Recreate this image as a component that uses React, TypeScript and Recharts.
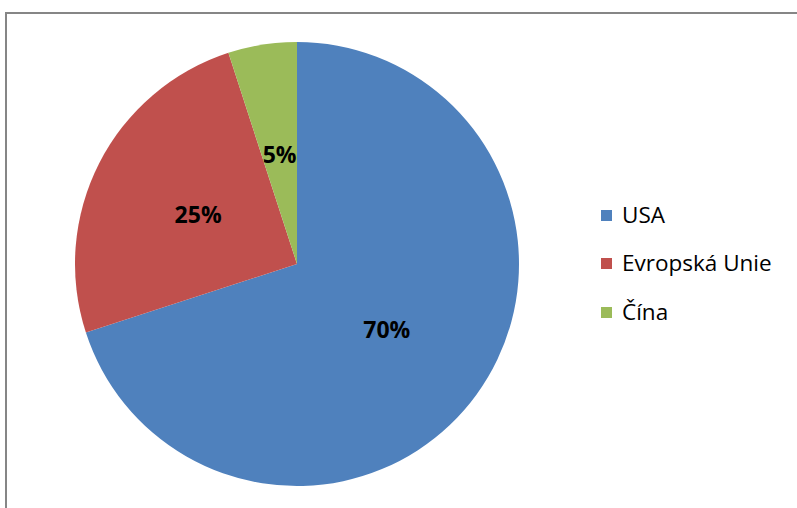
import React from "react";
import { PieChart, Pie, Cell, Legend } from "recharts";

const categories = ["USA", "Evropská Unie", "Čína"];
const shares = [70, 25, 5];
const colors = ["#4F81BD", "#C0504D", "#9BBB59"];

const data = categories.map((name, i) => ({ name, value: shares[i] }));

const RAD = Math.PI / 180;

const renderLabel = (props: any) => {
  const { cx, cy, midAngle, outerRadius, value } = props;
  const r = outerRadius * 0.5;
  const x = cx + r * Math.cos(-midAngle * RAD);
  const y = cy + r * Math.sin(-midAngle * RAD);
  return (
    <text
      x={x}
      y={y}
      textAnchor="middle"
      dominantBaseline="central"
      fill="#000"
      fontFamily="'Open Sans', sans-serif"
      fontWeight="bold"
      fontSize={23}
    >
      {`${value}%`}
    </text>
  );
};

const LegendContent = () => (
  <div style={{ fontFamily: "'Open Sans', sans-serif", fontSize: 22.5, color: "#000", lineHeight: 1 }}>
    {categories.map((c, i) => (
      <div key={c} style={{ height: 48.5, display: "flex", alignItems: "center" }}>
        <div style={{ width: 11, height: 11, background: colors[i], marginRight: 10 }} />
        <span>{c}</span>
      </div>
    ))}
  </div>
);

export default function App() {
  return (
    <div style={{ position: "fixed", left: 0, top: 0, width: 797, height: 508, background: "#fff", overflow: "hidden" }}>
      <div
        style={{
          position: "absolute",
          left: 5,
          top: 12,
          width: 900,
          height: 700,
          border: "2px solid #868686",
          boxSizing: "border-box",
        }}
      />
      <div style={{ position: "absolute", left: 0, top: 0 }}>
        <PieChart width={797} height={508} margin={{ top: 0, right: 0, bottom: 0, left: 0 }}>
          <Pie
            data={data}
            dataKey="value"
            nameKey="name"
            cx={297}
            cy={264}
            outerRadius={222}
            startAngle={90}
            endAngle={-270}
            stroke="none"
            label={renderLabel}
            labelLine={false}
            isAnimationActive={false}
          >
            {data.map((d, i) => (
              <Cell key={d.name} fill={colors[i]} />
            ))}
          </Pie>
          <Legend
            layout="vertical"
            align="right"
            verticalAlign="top"
            content={<LegendContent />}
            wrapperStyle={{ left: 601, top: 190.75, width: 196 }}
          />
        </PieChart>
      </div>
    </div>
  );
}
